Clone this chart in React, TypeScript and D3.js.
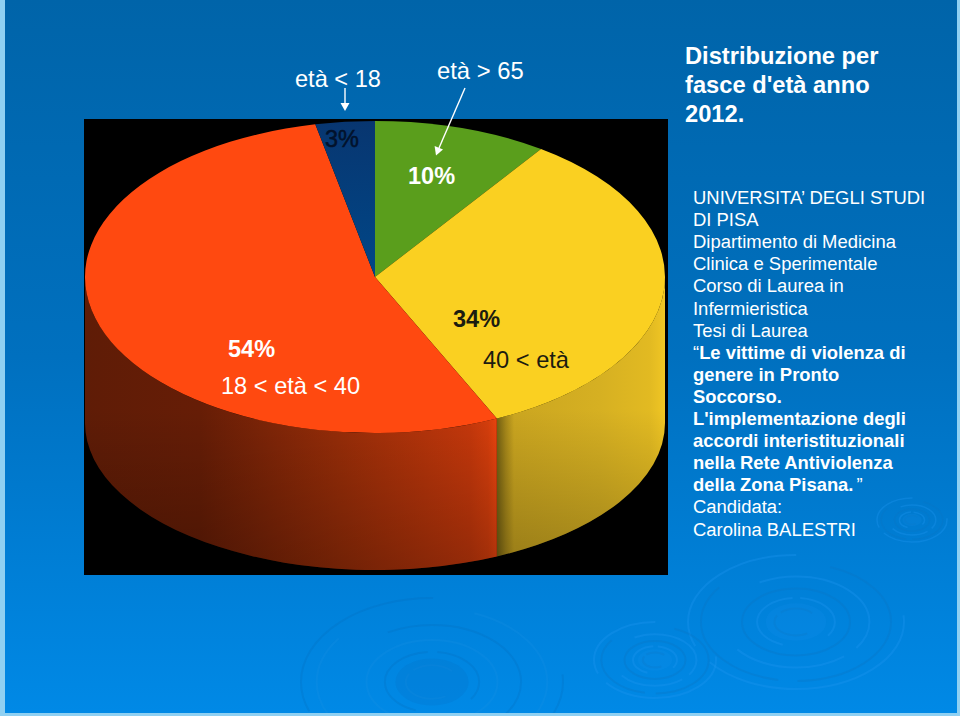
import React from "react";
import * as d3 from "d3";

// Data
const sliceLabels = ["età > 65", "40 < età", "18 < età < 40", "età < 18"];
const sliceShares = ["10%", "34%", "54%", "3%"];
const sliceValues = [9.7, 33.4, 53.6, 3.3];
const sliceTops = ["#5a9e1c", "#fad021", "#ff4910", "url(#navyTop)"];
const wallFills = ["#5a9e1c", "url(#yellowWall)", "url(#redWall)", "#003a75"];
const titleLines = ["Distribuzione per", "fasce d'età anno", "2012."];
const bodyLines: [string, boolean][] = [
  ["UNIVERSITA’ DEGLI STUDI", false],
  ["DI PISA", false],
  ["Dipartimento di Medicina", false],
  ["Clinica e Sperimentale", false],
  ["Corso di Laurea in", false],
  ["Infermieristica", false],
  ["Tesi di Laurea", false],
  ["Le vittime di violenza di", true],
  ["genere in Pronto", true],
  ["Soccorso.", true],
  ["L'implementazione degli", true],
  ["accordi interistituzionali", true],
  ["nella Rete Antiviolenza", true],
  ["della Zona Pisana.", true],
  ["Candidata:", false],
  ["Carolina BALESTRI", false],
];

// Layout
const W = 960, H = 716;
const cx = 375, cy = 277, rx = 290, ry = 156;
const baseCy = 423, baseRy = 147;
const FONT = "'Liberation Sans', Arial, sans-serif";
const ripples = [
  { x: 796, y: 622, a: 108, b: 67, dark: false },
  { x: 655, y: 660, a: 61, b: 38, dark: false },
  { x: 432, y: 682, a: 131, b: 84, dark: true },
  { x: 912, y: 520, a: 35, b: 22, dark: false },
];
const ringFractions = [1, 0.88, 0.68, 0.5, 0.36, 0.2];

const pt = (a: number): [number, number] => [cx + rx * Math.sin(a), cy - ry * Math.cos(a)];
const basePt = (a: number): [number, number] => [cx + rx * Math.sin(a), baseCy - baseRy * Math.cos(a)];

function wallPath(a0: number, a1: number) {
  const s = Math.max(a0, Math.PI / 2), e = Math.min(a1, (3 * Math.PI) / 2);
  if (e <= s) return null;
  const [x0, y0] = pt(s), [x1, y1] = pt(e);
  const [bx0, by0] = basePt(s), [bx1, by1] = basePt(e);
  return `M${x0},${y0}A${rx},${ry} 0 0 1 ${x1},${y1}L${bx1},${by1}A${rx},${baseRy} 0 0 0 ${bx0},${by0}Z`;
}

export default function App() {
  const arcs = d3.pie<number>().sort(null)(sliceValues);
  const arcGen = d3.arc<d3.PieArcDatum<number>>().innerRadius(0).outerRadius(rx);
  const walls = arcs.map((d, i) => ({ i, p: wallPath(d.startAngle, d.endAngle) })).filter((w) => w.p);

  const xStop = d3.scaleLinear().domain([85, 665]).range([0, 1]);
  const redStops: [number, string][] = [[85, "#5f1c06"], [200, "#661d06"], [340, "#982d08"], [470, "#c6380b"], [488, "#d63e0c"], [496, "#ea440e"]];
  const yellowStops: [number, string][] = [[496, "#6e5c12"], [506, "#a8891a"], [514, "#cba620"], [600, "#d6b022"], [650, "#e2ba22"], [665, "#f0c624"]];

  const text = (t: any, x: number, y: number, fill: string, size: number, weight = "normal", extra: any = {}) => (
    <text x={x} y={y} fill={fill} fontSize={size} fontWeight={weight} fontFamily={FONT} {...extra}>{t}</text>
  );

  return (
    <svg width={W} height={H} style={{ position: "absolute", left: 0, top: 0, display: "block" }}>
      <defs>
        <linearGradient id="bg" x1="0" y1="0" x2="0" y2="1">
          <stop offset="0" stopColor="#0064a9" />
          <stop offset="0.5" stopColor="#0070bf" />
          <stop offset="1" stopColor="#0089e6" />
        </linearGradient>
        <linearGradient id="navyTop" gradientUnits="userSpaceOnUse" x1="0" y1={-290} x2="0" y2="0">
          <stop offset="0" stopColor="#083670" />
          <stop offset="1" stopColor="#004788" />
        </linearGradient>
        <linearGradient id="redWall" gradientUnits="userSpaceOnUse" x1="85" y1="0" x2="665" y2="0">
          {redStops.map(([x, c]) => <stop key={x} offset={xStop(x)} stopColor={c} />)}
        </linearGradient>
        <linearGradient id="yellowWall" gradientUnits="userSpaceOnUse" x1="85" y1="0" x2="665" y2="0">
          {yellowStops.map(([x, c]) => <stop key={x} offset={xStop(x)} stopColor={c} />)}
        </linearGradient>
        <linearGradient id="wallShade" gradientUnits="userSpaceOnUse" x1="0" y1="410" x2="0" y2="570">
          <stop offset="0" stopColor="#000" stopOpacity="0" />
          <stop offset="1" stopColor="#000" stopOpacity="0.26" />
        </linearGradient>
      </defs>

      <rect width={W} height={H} fill="#8fd0f2" />
      <rect x={5} y={0} width={952} height={713} fill="url(#bg)" />

      <clipPath id="page"><rect x={5} y={0} width={952} height={713} /></clipPath>
      <g clipPath="url(#page)">
        {ripples.map((r, i) => (
          <g key={i} fill="none">
            {ringFractions.map((f, j) => {
              const c = Math.PI * (r.a + r.b) * f;
              return (
                <ellipse key={j} cx={r.x} cy={r.y} rx={r.a * f} ry={r.b * f}
                  stroke={r.dark ? (j % 2 ? "#1c90e4" : "#0668b4") : (j % 2 ? "#0a74c4" : "#1c96f0")}
                  strokeOpacity={r.dark ? 0.22 : 0.34}
                  strokeWidth={r.a > 50 ? 2 : 1.5}
                  strokeDasharray={j === 3 ? undefined : `${c * 0.42} ${c * 0.04} ${c * 0.3} ${c * 0.24}`}
                  strokeDashoffset={j * c * 0.17} />
              );
            })}
            <ellipse cx={r.x} cy={r.y} rx={r.a * 0.28} ry={r.b * 0.28}
              fill={r.dark ? "#0668b4" : "#1c96f0"} stroke="none" opacity={0.15} />
          </g>
        ))}
      </g>

      <rect x={84} y={119} width={584} height={456} fill="#000" />

      {walls.map((w) => (
        <g key={w.i}>
          <path d={w.p!} fill={wallFills[w.i]} />
          <path d={w.p!} fill="url(#wallShade)" />
        </g>
      ))}
      <g transform={`translate(${cx},${cy}) scale(1,${ry / rx})`}>
        {arcs.map((d, i) => (
          <path key={i} d={arcGen(d)!} fill={sliceTops[i]} />
        ))}
      </g>

      {text(sliceLabels[3], 295, 87, "#fff", 23.6)}
      {text(sliceLabels[0], 437, 79, "#fff", 23.8)}
      <g stroke="#fff" strokeWidth={1.4} fill="#fff">
        <line x1={345} y1={88} x2={345} y2={104} />
        <path d="M340.5,103 L349.5,103 L345,111 Z" stroke="none" />
        <line x1={465} y1={88} x2={439} y2={148} />
        <path d="M434.6,146 L443,149.5 L436,155.5 Z" stroke="none" />
      </g>

      {text(sliceShares[3], 325, 147, "#02122c", 23.5, "normal", { stroke: "#02122c", strokeWidth: 0.5 })}
      {text(sliceShares[0], 408, 184, "#fff", 23.5, "bold")}
      {text(sliceShares[1], 453, 327, "#1c1c10", 23.5, "bold")}
      {text(sliceShares[2], 228, 357, "#fff", 23.5, "bold")}
      {text(sliceLabels[2], 221, 394, "#fff", 23.6)}
      {text(sliceLabels[1], 483, 368, "#1c1c10", 23.6)}

      {titleLines.map((t, i) => (
        <g key={i}>{text(t, 685, 64 + i * 29, "#fff", 23.7, "bold")}</g>
      ))}
      {bodyLines.map(([t, b], i) => (
        <g key={i}>
          {text(
            i === 7 ? <><tspan fontWeight="normal">“</tspan>{t}</> :
            i === 13 ? <>{t}<tspan fontWeight="normal" dx={3}>”</tspan></> : t,
            693, 204 + i * 22.1, "#fff", b ? 18.4 : 18.45, b ? "bold" : "normal")}
        </g>
      ))}
    </svg>
  );
}
